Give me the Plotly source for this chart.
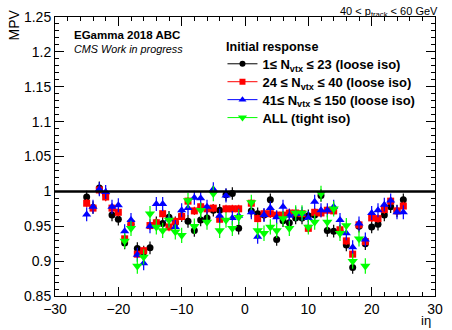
import plotly.graph_objects as go

ieta = [-25, -24, -23, -22, -21, -20, -19, -18, -17, -16, -15, -14, -13, -12, -11, -10, -9, -8, -7, -6, -5, -4, -3, -2, -1,
        1, 2, 3, 4, 5, 6, 7, 8, 9, 10, 11, 12, 13, 14, 15, 16, 17, 18, 19, 20, 21, 22, 23, 24, 25]

mpv_low = [0.992, 0.977, 1.005, 0.996, 0.966, 0.960, 0.926, 0.953, 0.918, 0.913, 0.919, 0.955, 0.954, 0.963, 0.955,
           0.965, 0.957, 0.944, 0.959, 0.962, 0.973, 0.973, 0.995, 0.997, 0.947,
           0.972, 0.968, 0.966, 0.988, 0.931, 0.958, 0.955, 0.962, 0.962, 0.965, 0.966, 0.994, 0.944, 0.943, 0.943,
           0.923, 0.891, 0.950, 0.925, 0.949, 0.953, 0.966, 0.978, 0.972, 0.988]

mpv_mid = [0.983, 0.976, 1.002, 0.992, 0.976, 0.970, 0.932, 0.954, 0.910, 0.915, 0.951, 0.955, 0.968, 0.949, 0.957,
           0.964, 0.986, 0.972, 0.978, 0.975, 0.976, 0.960, 0.975, 0.975, 0.975,
           0.983, 0.961, 0.968, 0.968, 0.966, 0.966, 0.969, 0.969, 0.968, 0.947, 0.970, 0.969, 0.973, 0.972, 0.945,
           0.929, 0.910, 0.952, 0.928, 0.962, 0.961, 0.974, 0.986, 0.972, 0.979]

mpv_high = [0.967, 0.978, 1.003, 0.999, 0.978, 0.980, 0.943, 0.959, 0.909, 0.897, 0.950, 0.982, 0.982, 0.960, 0.949,
            0.973, 0.976, 0.991, 0.990, 0.978, 1.003, 0.965, 0.994, 0.962, 0.965,
            0.970, 0.935, 0.966, 0.976, 0.963, 0.978, 0.965, 0.968, 0.968, 0.962, 0.985, 0.973, 0.973, 0.978, 0.959,
            0.940, 0.920, 0.954, 0.931, 0.969, 0.973, 0.981, 0.987, 0.970, 0.970]

ieta_all = [-19, -18, -17, -16, -15, -14, -13, -12, -11, -10, -9, -8, -7, -6, -5, -4, -3, -2, -1,
            1, 2, 3, 4, 5, 6, 7, 8, 9, 10, 11, 12, 13, 14, 15, 16, 17, 18, 19]
mpv_all = [0.929, 0.947, 0.893, 0.906, 0.968, 0.949, 0.944, 0.959, 0.942, 0.937, 0.987, 0.950, 0.973, 0.956, 0.997,
           0.944, 0.959, 0.947, 0.963,
           0.984, 0.944, 0.940, 0.949, 0.944, 0.961, 0.947, 0.969, 0.969, 0.949, 0.956, 0.997, 0.956, 0.975, 0.940,
           0.951, 0.900, 0.932, 0.893]

err_low, err_mid, err_high, err_all = 0.009, 0.006, 0.010, 0.011

legend_labels = ["<b>1\u2264 N<sub>vtx</sub> \u2264 23 (loose iso)</b>",
                 "<b>24 \u2264 N<sub>vtx</sub> \u2264 40 (loose iso)</b>",
                 "<b>41\u2264 N<sub>vtx</sub> \u2264 150 (loose iso)</b>",
                 "<b>ALL (tight iso)</b>"]

series = [
    (ieta, mpv_low, err_low, "black", "circle", 7),
    (ieta, mpv_mid, err_mid, "#ff0000", "square", 7),
    (ieta, mpv_high, err_high, "#0000ff", "triangle-up", 8),
    (ieta_all, mpv_all, err_all, "#00ff00", "triangle-down", 9),
]

FONT = "Liberation Sans, Arial, Helvetica, sans-serif"
fig = go.Figure()

for (x, y, e, c, sym, sz) in series:
    fig.add_trace(go.Scatter(
        x=x, y=y, mode="markers", showlegend=False,
        marker=dict(color=c, symbol=sym, size=sz, line=dict(width=0)),
        error_y=dict(type="constant", value=e, color=c, thickness=1.2, width=0),
    ))

legend_names = ["legend", "legend2", "legend3", "legend4"]
legend_rows_px = [63, 81, 99, 117]

for (x, y, e, c, sym, sz), lab, lg in zip(series, legend_labels, legend_names):
    fig.add_trace(go.Scatter(
        x=[None], y=[None], mode="lines+markers", name=lab, legend=lg,
        marker=dict(color=c, symbol=sym, size=sz - 1),
        line=dict(color=c, width=1),
    ))

fig.add_shape(type="line", x0=-30, x1=30, y0=1, y1=1, xref="x", yref="y",
              line=dict(color="black", width=2.5))

axis_common = dict(showgrid=False, zeroline=False, showline=True, linecolor="black", linewidth=1,
                   mirror="allticks", ticks="inside", tickcolor="black",
                   tickfont=dict(family=FONT, size=14, color="black"))

fig.update_xaxes(range=[-30, 30], dtick=10, ticklen=9,
                 minor=dict(dtick=2, ticklen=4, ticks="inside", tickcolor="black"),
                 **axis_common)
fig.update_yaxes(range=[0.85, 1.25], dtick=0.05, ticklen=9,
                 minor=dict(dtick=0.01, ticklen=4, ticks="inside", tickcolor="black"),
                 **axis_common)

# plot area: x 55..443 px, y 16..296 px
def py(p):
    return (296 - p) / 280.0

def px(p):
    return (p - 55) / 388.0

ann = [
    dict(text="<b>EGamma 2018 ABC</b>", x=px(72), y=py(34), xanchor="left", yanchor="middle",
         font=dict(size=11.5)),
    dict(text="<i>CMS Work in progress</i>", x=px(72), y=py(48), xanchor="left", yanchor="middle",
         font=dict(size=10.8)),
    dict(text="<b>Initial response</b>", x=px(228), y=py(46), xanchor="left", yanchor="middle",
         font=dict(size=12.6)),
    dict(text="40 < p<sub>track</sub> < 60 GeV", x=px(448), y=py(11), xanchor="right", yanchor="middle",
         font=dict(size=11)),
    dict(text="MPV", x=px(13), y=py(6), xanchor="center", yanchor="top", textangle=-90,
         font=dict(size=14)),
    dict(text="i\u03b7", x=px(441), y=py(321), xanchor="right", yanchor="middle", font=dict(size=13)),
]
for a in ann:
    a.update(xref="paper", yref="paper", showarrow=False)
    a["font"].update(family=FONT, color="black")
    fig.add_annotation(**a)

legend_layout = {}
for lg, row in zip(legend_names, legend_rows_px):
    legend_layout[lg] = dict(x=px(226), y=py(row), xanchor="left", yanchor="middle",
                             bgcolor="rgba(0,0,0,0)",
                             font=dict(family=FONT, size=13, color="black"),
                             itemwidth=30, borderwidth=0)

fig.update_layout(
    width=452, height=330,
    margin=dict(l=55, r=9, t=16, b=34),
    paper_bgcolor="white", plot_bgcolor="white",
    font=dict(family=FONT, color="black"),
    **legend_layout,
)

fig.write_html("out.html")
